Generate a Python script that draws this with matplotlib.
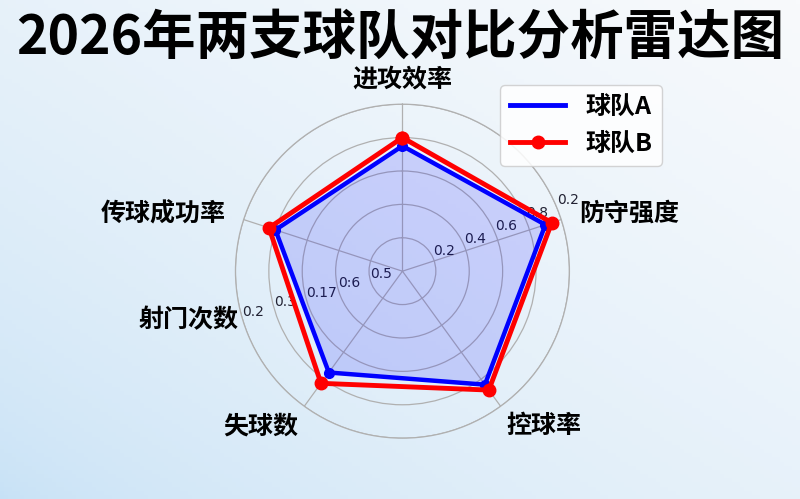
import numpy as np
import matplotlib
matplotlib.use('Agg')
import matplotlib.pyplot as plt
from matplotlib.lines import Line2D

plt.rcParams['font.family'] = ['Noto Sans CJK SC', 'DejaVu Sans']

title = '2026年两支球队对比分析雷达图'
categories = ['进攻效率', '防守强度', '控球率', '失球数', '传球成功率']
extra_label = '射门次数'
series_names = ['球队A', '球队B']
team_a = [0.75, 0.90, 0.84, 0.75, 0.80]
team_b = [0.80, 0.94, 0.88, 0.83, 0.84]
r_ticks = [0.2, 0.4, 0.6, 0.8, 1.0]
r_labels_main = ['0.2', '0.4', '0.6', '0.8', '0.2']
r_labels_extra = ['0.5', '0:6', '0.17', '0.3', '0.2']

fig = plt.figure(figsize=(8, 4.99), dpi=100)

# background gradient
bg = fig.add_axes([0, 0, 1, 1], zorder=-10)
h, w = 120, 200
yy, xx = np.mgrid[0:1:h * 1j, 0:1:w * 1j]
t = (np.clip((xx + yy) / 2.0, 0, 1) ** 0.6)[..., None]
c0 = np.array([198, 225, 246]) / 255.0
c1 = np.array([248, 250, 252]) / 255.0
img = c0 * (1 - t) + c1 * t
bg.imshow(img, origin='lower', aspect='auto', extent=[0, 1, 0, 1])
bg.axis('off')

rect = [0.2943, 0.1219, 0.4175, 0.6693]

# secondary polar axes (extra radial labels), behind
ax2 = fig.add_axes(rect, projection='polar', label='extra', zorder=0)
ax2.set_theta_offset(np.pi / 2)
ax2.set_theta_direction(-1)
ax2.patch.set_alpha(0)
ax2.set_ylim(0, 1)
ax2.set_yticks(r_ticks)
ax2.set_yticklabels(r_labels_extra, fontsize=10, family='DejaVu Sans', color='#222233')
ax2.set_rlabel_position(253.5)
ax2.set_xticks([])
ax2.grid(False)
ax2.spines['polar'].set_visible(False)

ax = fig.add_axes(rect, projection='polar', zorder=1)
ax.set_theta_offset(np.pi / 2)
ax.set_theta_direction(-1)
ax.patch.set_alpha(0)

n = len(categories)
angles = np.linspace(0, 2 * np.pi, n, endpoint=False)
ang_c = np.concatenate([angles, angles[:1]])
a_c = np.concatenate([team_a, team_a[:1]])
b_c = np.concatenate([team_b, team_b[:1]])

ax.fill(ang_c, a_c, color='blue', alpha=0.15, zorder=2, lw=0)
ax.plot(ang_c, a_c, color='blue', lw=3.2, zorder=3, solid_joinstyle='round')
ax.plot(angles, team_a, 'o', color='blue', ms=7, zorder=3)
ax.plot(ang_c, b_c, color='red', lw=3.5, marker='o', ms=9, zorder=4, solid_joinstyle='round')

ax.set_ylim(0, 1)
ax.set_yticks(r_ticks)
ax.set_yticklabels(r_labels_main, fontsize=10, family='DejaVu Sans', color='#222233')
ax.set_rlabel_position(67.5)
ax.set_xticks(angles)
ax.set_xticklabels([])
ax.tick_params(axis='x', length=0)
ax.grid(color='#b0b0b0', lw=0.9)
ax.spines['polar'].set_color('#b0b0b0')
ax.spines['polar'].set_linewidth(0.9)
ax.set_axisbelow(True)

lab_kw = dict(fontsize=18, fontweight='bold', color='black', clip_on=False)
ax.text(angles[0], 1.145, categories[0], ha='center', va='center', **lab_kw)
ax.text(angles[1], 1.11, categories[1], ha='left', va='center', **lab_kw)
ax.text(angles[2], 1.06, categories[2], ha='left', va='top', **lab_kw)
ax.text(angles[3], 1.06, categories[3], ha='right', va='top', **lab_kw)
ax.text(angles[4], 1.11, categories[4], ha='right', va='center', **lab_kw)
ax.text(np.deg2rad(253.4), 1.025, extra_label, ha='right', va='center', **lab_kw)

handles = [Line2D([], [], color='blue', lw=3.5),
           Line2D([], [], color='red', lw=3.5, marker='o', ms=9)]
fig.legend(handles, series_names, loc='upper right',
           bbox_to_anchor=(662 / 800, 1 - 85 / 499), borderaxespad=0,
           prop={'size': 18, 'weight': 'bold'}, framealpha=0.85,
           edgecolor='#cccccc', handlelength=2.2)

fig.text(0.5, 1 - 38 / 499, title, ha='center', va='center',
         fontsize=38.5, fontweight='black', color='black')

fig.savefig('out.png', dpi=100)
